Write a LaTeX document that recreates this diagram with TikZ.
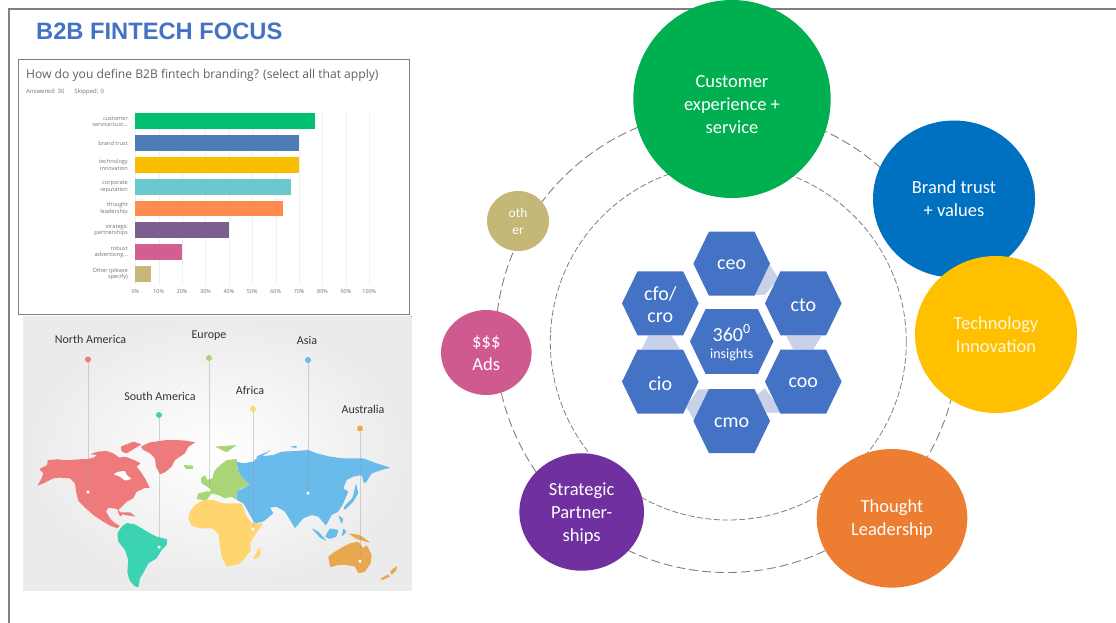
\documentclass[tikz,border=0pt]{standalone}
\usetikzlibrary{shapes.geometric}
\usepackage{fontspec}
\setmainfont{Carlito}
\newfontfamily\titlefont{Liberation Sans}
\newfontfamily\chartfont{Open Sans}
\definecolor{hexb}{HTML}{4472C4}
\definecolor{hexlight}{HTML}{C9D1E8}
\newcommand{\hexa}[6]{% name,x,y,halfw,halfh,text
  \fill[hexb] (#2-#4,#3) -- (#2-#4+15.5,#3-#5) -- (#2+#4-15.5,#3-#5) -- (#2+#4,#3) -- (#2+#4-15.5,#3+#5) -- (#2-#4+15.5,#3+#5) -- cycle;
  \node[hexl] (#1) at (#2,#3+1.5) {#6};}
\newcommand{\bubble}[8]{% name,x,y,w,h,colour,dy,text
  \node[ellipse,fill=#6,minimum width=#4pt,minimum height=#5pt,inner sep=0pt] (#1) at (#2,#3) {};
  \node[bub] (#1t) at (#2,#3+#7) {#8};}
\begin{document}
\begin{tikzpicture}[x=1pt,y=-1pt,
  gridl/.style={draw=gray!12,line width=.4pt},
  axlab/.style={font=\chartfont\fontsize{5.6}{6.2}\selectfont,text=black!55,inner sep=0pt,align=right,anchor=east},
  ticklab/.style={font=\chartfont\fontsize{5.4}{5.5}\selectfont,text=black!55,inner sep=0pt},
  pin/.style={draw=black!40,opacity=.4,line width=.8pt},
  maplab/.style={font=\fontsize{12}{13}\selectfont,text=black!80,inner sep=0pt},
  ringo/.style={draw=black!50,line width=.9pt,dash pattern=on 9pt off 4pt},
  ringi/.style={draw=black!50,line width=.8pt,dash pattern=on 6pt off 2.5pt},
  bub/.style={font=\fontsize{18.5}{23}\selectfont,text=white,align=center,inner sep=0pt},
  hexl/.style={font=\fontsize{20}{22.5}\selectfont,text=white,align=center,inner sep=0pt},
]
\useasboundingbox (0,0) rectangle (1116,623);
\fill[white] (0,0) rectangle (1116,623);
\draw[black!50,line width=2pt] (8.5,623) -- (8.5,9.5) -- (1116,9.5);
\node[font=\titlefont\bfseries\fontsize{23.7}{24}\selectfont,text=hexb,anchor=west,inner sep=0pt] (title) at (36,31) {B2B FINTECH FOCUS};
% chart
\draw[black!50,line width=.8pt] (18.5,59.5) rectangle (409,314);
\node[font=\chartfont\fontsize{12.1}{13}\selectfont,text=black!62,anchor=west,inner sep=0pt] (q) at (26,75) {How do you define B2B fintech branding? (select all that apply)};
\node[font=\chartfont\fontsize{6}{6}\selectfont,text=black!55,anchor=west,inner sep=0pt] (ans) at (26,92) {Answered: 30\hspace{10pt}Skipped: 0};
\foreach \p in {0,10,...,100}{
  \draw[gridl] ({135.3+2.34*\p},111) -- ({135.3+2.34*\p},285);
  \node[ticklab] at ({135.3+2.34*\p},292) {\p\%};
}
\foreach \yy/\v/\c in {113.5/76.67/00BF6F,135.3/70/507CB6,157/70/F9BE00,178.8/66.67/6BC8CD,200.5/63.33/FF8B4F,222.3/40/7D5E90,244/20/D25F90,265.8/6.67/C7B879}{
  \definecolor{cc}{HTML}{\c}
  \fill[cc] (135.3,\yy) rectangle ({135.3+2.34*\v},\yy+15.8);
}
\node[axlab] at (128,121.5) {customer\\service/cust...};
\node[axlab] at (128,143.3) {brand trust};
\node[axlab] at (128,165) {technology\\innovation};
\node[axlab] at (128,186.8) {corporate\\reputation};
\node[axlab] at (128,208.5) {thought\\leadership};
\node[axlab] at (128,230.3) {strategic\\partnerships};
\node[axlab] at (128,252) {robust\\advertising...};
\node[axlab] at (128,273.8) {Other (please\\specify)};
% map
\fill[inner color=white,middle color=black!2,outer color=black!8] (23,316) rectangle (411.5,590);
\begin{scope}[shift={(10,315)},x=.3333pt,y=-.3333pt,rounded corners=.8pt]
\definecolor{na}{HTML}{EE7A7C}\definecolor{sa}{HTML}{3CD3B2}\definecolor{eu}{HTML}{A9D477}
\definecolor{af}{HTML}{FFD56F}\definecolor{as}{HTML}{68BBEA}\definecolor{au}{HTML}{E8A84F}
\fill[na] (82,513)--(95,490)--(100,475)--(88,462)--(112,450)--(112,436)--(140,433)--(170,436)--(205,433)--(232,432)--(250,428)--(262,420)--(240,418)--(262,410)--(290,408)--(310,415)--(328,428)--(345,425)--(360,430)--(378,438)--(392,445)--(380,455)--(392,470)--(405,490)--(420,520)--(405,518)--(392,525)--(380,530)--(370,550)--(350,560)--(335,575)--(325,585)--(338,600)--(330,605)--(322,582)--(295,578)--(288,590)--(300,610)--(315,625)--(330,632)--(322,640)--(300,632)--(275,617)--(250,600)--(225,578)--(205,558)--(198,530)--(195,505)--(180,490)--(150,488)--(130,490)--(105,503)--cycle;
\fill[na] (332,395)--(370,380)--(395,388)--(375,400)--(350,415)--(335,410)--cycle;
\fill[na] (392,395)--(420,382)--(470,375)--(520,376)--(557,382)--(535,395)--(525,415)--(495,435)--(485,455)--(465,472)--(450,478)--(438,455)--(435,430)--(420,415)--(400,405)--cycle;
\fill[white] (310,478)--(325,470)--(345,468)--(350,480)--(365,492)--(345,497)--(330,485)--cycle;
\fill[na] (320,592)--(360,592)--(378,605)--(345,600)--cycle;
\fill[sa] (322,655)--(335,635)--(350,624)--(375,628)--(395,640)--(420,655)--(440,665)--(472,673)--(470,690)--(455,705)--(440,730)--(415,745)--(402,770)--(390,790)--(385,818)--(372,812)--(358,795)--(352,770)--(355,735)--(345,705)--(325,680)--cycle;
\fill[eu] (520,450)--(548,452)--(550,462)--(528,462)--cycle;
\fill[eu] (615,395)--(680,390)--(650,412)--cycle;
\fill[eu] (560,553)--(565,535)--(590,530)--(600,520)--(575,505)--(572,490)--(585,480)--(592,495)--(608,490)--(612,470)--(625,455)--(650,435)--(682,432)--(680,450)--(685,470)--(700,490)--(720,510)--(695,520)--(680,530)--(680,555)--(665,545)--(645,550)--(625,540)--(605,535)--(590,555)--cycle;
\fill[af] (535,610)--(540,590)--(555,570)--(580,555)--(610,555)--(640,565)--(670,565)--(695,565)--(708,600)--(725,625)--(760,625)--(745,645)--(722,680)--(722,705)--(705,730)--(685,748)--(650,755)--(635,725)--(630,690)--(625,655)--(605,640)--(570,640)--(545,632)--cycle;
\fill[af] (730,730)--(750,695)--(752,718)--(736,733)--cycle;
\fill[as] (680,440)--(700,445)--(730,440)--(745,425)--(790,420)--(815,410)--(860,408)--(895,405)--(920,415)--(960,425)--(1000,430)--(1060,430)--(1100,445)--(1142,458)--(1115,465)--(1085,475)--(1070,500)--(1062,505)--(1055,480)--(1030,485)--(1010,495)--(1000,520)--(1015,530)--(1000,565)--(985,590)--(965,600)--(948,632)--(925,605)--(905,600)--(880,610)--(855,640)--(840,615)--(825,590)--(800,575)--(780,578)--(790,595)--(760,620)--(735,625)--(720,600)--(700,565)--(680,555)--(680,530)--(720,510)--(700,490)--(685,470)--cycle;
\fill[as] (1038,505)--(1045,535)--(1030,560)--(1005,585)--(1000,578)--(1028,548)--cycle;
\fill[as] (905,640)--(925,650)--(950,678)--(930,668)--cycle;
\fill[as] (945,665)--(960,640)--(985,645)--(980,665)--(960,672)--cycle;
\fill[as] (985,600)--(1000,612)--(995,628)--cycle;
\fill[as] (1000,640)--(1010,650)--(995,665)--cycle;
\fill[as] (738,425)--(785,405)--(750,428)--cycle;
\fill[as] (840,395)--(860,392)--(860,400)--cycle;
\fill[au] (955,725)--(975,710)--(1000,695)--(1020,685)--(1045,680)--(1060,700)--(1070,690)--(1085,720)--(1082,745)--(1065,770)--(1045,775)--(1035,755)--(1010,750)--(985,750)--(960,757)--cycle;
\fill[au] (1015,655)--(1050,660)--(1082,684)--(1040,672)--cycle;
\fill[au] (1110,792)--(1135,778)--(1140,785)--(1118,795)--cycle;
\fill[au] (1140,770)--(1160,752)--(1160,765)--(1145,780)--cycle;
\end{scope}
\foreach \name/\lab/\lx/\ly/\dx/\dy/\ey/\c in {
 n/North America/90.5/339/88/359.5/492/EE7A7C,
 s/South America/160/396/159/415/547/3CD3B2,
 e/Europe/209/336/209/358/490/A9D477,
 f/Africa/250/390/253/409/529/FFD56F,
 a/Asia/307/340/308/360/493/68BBEA,
 u/Australia/363/409/360/428.5/561/E8A84F}{
  \definecolor{cc}{HTML}{\c}
  \node[maplab] (lab\name) at (\lx,\ly) {\lab};
  \node[circle,fill=cc,minimum size=6pt,inner sep=0pt] (dot\name) at (\dx,\dy) {};
  \node[circle,fill=white,minimum size=3.5pt,inner sep=0pt] (end\name) at (\dx,\ey) {};
  \draw[pin] (dot\name) -- (end\name);
}
% rings
\node[circle,ringo,minimum size=463pt,inner sep=0pt] (outer) at (727,341) {};
\node[circle,ringi,minimum size=356pt,inner sep=0pt] (inner) at (728.3,342) {};
% bubbles
\definecolor{bg}{HTML}{00B050}\definecolor{bb}{HTML}{0070C0}\definecolor{by}{HTML}{FFC000}
\definecolor{bo}{HTML}{ED7D31}\definecolor{bp}{HTML}{7030A0}\definecolor{bk}{HTML}{CF5A8F}\definecolor{bt}{HTML}{C4B778}
\bubble{cx}{732}{99}{197.4}{198}{bg}{5.5}{Customer\\experience +\\service}
\bubble{bt}{954}{199}{162}{157}{bb}{0}{Brand trust\\+ values}
\bubble{ti}{996}{334.5}{162}{157}{by}{0.5}{\color{white!85!by}Technology\\\color{white!85!by}Innovation}
\bubble{tl}{892}{518.3}{150.6}{138.6}{bo}{0.5}{Thought\\Leadership}
\bubble{sp}{581.7}{512}{124.6}{117.4}{bp}{1.5}{Strategic\\Partner-\\ships}
\bubble{ads}{486.3}{352.5}{90.6}{85}{bk}{0.5}{\$\$\$\\Ads}
\node[ellipse,fill=bt,minimum width=62pt,minimum height=60pt,inner sep=0pt] (oth) at (518,221) {};
\node[bub,font=\fontsize{13.5}{17}\selectfont] (otht) at (518,221) {oth\\er};
% hexagon links
\begin{scope}[shift={(600,220)},x=.3333pt,y=-.3333pt]
\fill[hexlight] (510,135)--(535,175)--(495,225)--(460,225)--cycle;
\fill[hexlight] (558,347)--(665,347)--(640,388)--(580,388)--cycle;
\fill[hexlight] (495,505)--(548,578)--(500,578)--(470,525)--cycle;
\fill[hexlight] (295,508)--(335,508)--(282,600)--(258,560)--cycle;
\fill[hexlight] (145,347)--(215,347)--(240,388)--(125,388)--cycle;
\end{scope}
\hexa{ceo}{731.7}{263.7}{38.3}{32}{ceo}
\hexa{cto}{803.3}{303.3}{38.3}{32}{cto}
\hexa{cfo}{660.3}{303.3}{38.3}{32}{cfo/\\cro}
\hexa{cio}{660.3}{381.7}{38.3}{32}{cio}
\hexa{coo}{803.3}{381.7}{38.3}{32}{coo}
\hexa{cmo}{731.7}{421}{38.3}{32}{cmo}
\hexa{ctr}{731.7}{341.5}{41.7}{32.3}{360\textsuperscript{0}\\[-5pt]{\fontsize{14}{15}\selectfont insights}}
\end{tikzpicture}
\end{document}
